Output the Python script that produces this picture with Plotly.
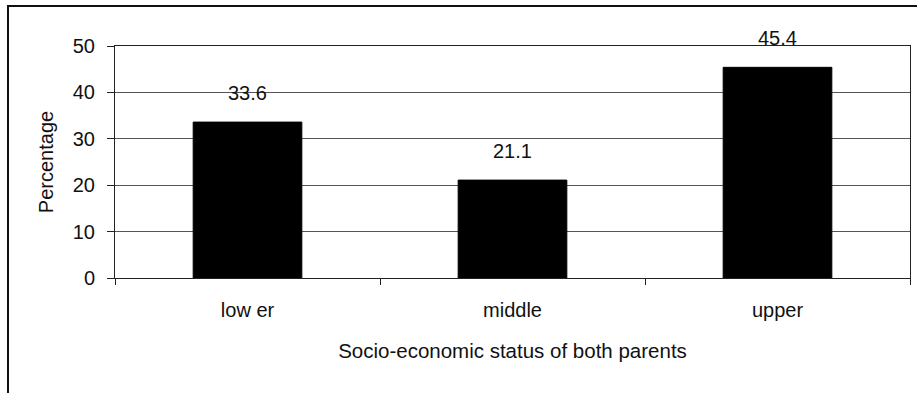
import plotly.graph_objects as go

categories = ["low er", "middle", "upper"]
values = [33.6, 21.1, 45.4]
value_labels = ["33.6", "21.1", "45.4"]
y_ticks = [0, 10, 20, 30, 40, 50]

FONT = "Liberation Sans, Arial, sans-serif"

fig = go.Figure()
fig.add_trace(go.Bar(
    x=categories, y=values,
    marker=dict(color="#000000", line=dict(color="#000000", width=1)),
    hoverinfo="skip", showlegend=False,
))

for c, v, t in zip(categories, values, value_labels):
    fig.add_annotation(x=c, y=v, text=t, showarrow=False, xref="x", yref="y",
                       yanchor="bottom", yshift=16,
                       font=dict(family=FONT, size=20, color="#111111"))

fig.update_layout(
    width=917, height=393,
    margin=dict(l=115, r=7, t=46, b=115),
    paper_bgcolor="white", plot_bgcolor="white",
    bargap=0.59,
    font=dict(family=FONT, size=20, color="#111111"),
)
fig.update_xaxes(
    type="category",
    tickson="boundaries",
    ticks="outside", ticklen=6, tickcolor="#222222", tickwidth=1,
    showline=True, linecolor="#222222", linewidth=1, mirror=True,
    showgrid=False,
    ticklabelstandoff=14,
    tickfont=dict(family=FONT, size=20, color="#111111"),
    title=dict(text="Socio-economic status of both parents",
               font=dict(family=FONT, size=20.5, color="#111111"), standoff=23),
)
fig.update_yaxes(
    range=[0, 50],
    tickvals=y_ticks,
    ticks="outside", ticklen=7, tickcolor="#222222", tickwidth=1,
    showline=True, linecolor="#222222", linewidth=1, mirror=True,
    showgrid=True, gridcolor="#555555", gridwidth=1,
    zeroline=False,
    ticklabelstandoff=8,
    tickfont=dict(family=FONT, size=20, color="#111111"),
    title=dict(text="Percentage",
               font=dict(family=FONT, size=20, color="#111111"), standoff=13),
)

# outer chart frame (extends past right and bottom edges of the view)
fig.add_shape(type="rect", xref="paper", yref="paper",
              x0=-0.1346, x1=1.02, y0=-0.6, y1=1.172,
              line=dict(color="#111111", width=2), fillcolor="rgba(0,0,0,0)",
              layer="below")

fig.write_html("out.html")
